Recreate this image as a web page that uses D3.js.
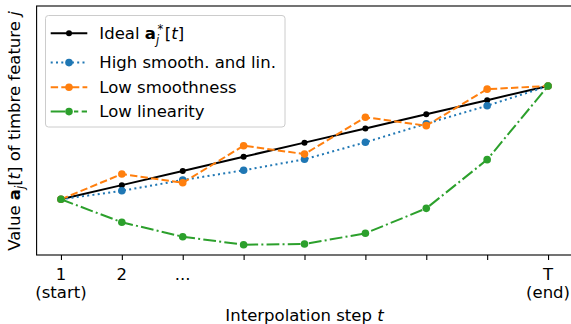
<!DOCTYPE html>
<html><head><meta charset="utf-8">
<script src="https://cdn.jsdelivr.net/npm/d3@7"></script>
<style>body{margin:0;background:#fff} svg{display:block} text{font-family:"DejaVu Sans",sans-serif;fill:#000}</style>
</head><body><svg id="c" width="571" height="324"></svg>
<script>
// ---- data ----
const steps = [1, 2, 3, 4, 5, 6, 7, 8, 9];
const tickLine1 = ["1", "2", "...", "", "", "", "", "", "T"];
const tickLine2 = ["(start)", "", "", "", "", "", "", "", "(end)"];
const ideal = [0, 0.125, 0.25, 0.375, 0.5, 0.625, 0.75, 0.875, 1];
const highSmoothLin = [0, 0.075, 0.17, 0.256, 0.353, 0.503, 0.667, 0.826, 1];
const lowSmooth = [0, 0.223, 0.146, 0.473, 0.399, 0.724, 0.65, 0.972, 1];
const lowLin = [0, -0.203, -0.33, -0.401, -0.395, -0.3, -0.08, 0.35, 1];
const seriesNames = ["Ideal", "High smooth. and lin.", "Low smoothness", "Low linearity"];

const FS = 16.5;
const svg = d3.select("#c");
const L = 36.6, R = 572.4, T = 6, B = 255;
const x = d3.scaleLinear().domain([0.6, 9.4]).range([L, R]);
const y = d3.scaleLinear().domain([-0.4916, 1.706]).range([B, T]);

const series = [
  {name: seriesNames[0], values: ideal, color: "#000000", dash: null, r: 3},
  {name: seriesNames[1], values: highSmoothLin, color: "#1f77b4", dash: "2,3.3", r: 3.8},
  {name: seriesNames[2], values: lowSmooth, color: "#ff7f0e", dash: "7.4,3.2", r: 3.8},
  {name: seriesNames[3], values: lowLin, color: "#2ca02c", dash: "12.8,3.2,2,3.2", r: 3.8}
];

const line = d3.line().x((d, i) => x(steps[i])).y(d => y(d));
series.forEach(s => {
  svg.append("path").attr("d", line(s.values)).attr("fill", "none")
    .attr("stroke", s.color).attr("stroke-width", 2)
    .attr("stroke-dasharray", s.dash);
  svg.selectAll(null).data(s.values).enter().append("circle")
    .attr("cx", (d, i) => x(steps[i])).attr("cy", d => y(d))
    .attr("r", s.r).attr("fill", s.color);
});

// frame
svg.append("rect").attr("x", L).attr("y", T).attr("width", R - L).attr("height", B - T)
  .attr("fill", "none").attr("stroke", "#000").attr("stroke-width", 1.1);

// x axis
const xAxis = d3.axisBottom(x).tickValues(steps).tickSize(5).tickFormat("");
const gx = svg.append("g").attr("transform", `translate(0,${B})`).call(xAxis);
gx.select(".domain").remove();
gx.selectAll(".tick line").attr("stroke", "#000").attr("stroke-width", 1.1);
steps.forEach((s, i) => {
  svg.append("text").attr("x", x(s)).attr("y", 280).attr("text-anchor", "middle")
    .attr("font-size", FS).text(tickLine1[i]);
  if (tickLine2[i]) svg.append("text").attr("x", x(s)).attr("y", 298).attr("text-anchor", "middle")
    .attr("font-size", FS).text(tickLine2[i]);
});

// x label
const xl = svg.append("text").attr("x", (L + R) / 2).attr("y", 321).attr("text-anchor", "middle").attr("font-size", FS);
xl.append("tspan").text("Interpolation step ");
xl.append("tspan").attr("font-style", "italic").text("t");

// y label
const yl = svg.append("text").attr("transform", `translate(20,${(T + B) / 2 + 0.5}) rotate(-90)`)
  .attr("text-anchor", "middle").attr("font-size", FS);
yl.append("tspan").text("Value ");
yl.append("tspan").attr("font-weight", "bold").text("a");
yl.append("tspan").attr("font-style", "italic").attr("font-size", 11.5).attr("dy", 3.5).text("j");
yl.append("tspan").attr("dy", -3.5).text("[");
yl.append("tspan").attr("font-style", "italic").text("t");
yl.append("tspan").text("] of timbre feature ");
yl.append("tspan").attr("font-style", "italic").text("j");

// legend
const lg = svg.append("g");
lg.append("rect").attr("x", 45.5).attr("y", 15.5).attr("width", 239.5).attr("height", 111.5)
  .attr("rx", 3).attr("fill", "#fff").attr("fill-opacity", 0.8).attr("stroke", "#cccccc").attr("stroke-width", 1);
const rows = [33.3, 62.6, 87.2, 111.6];
const legendDash = [null, "2,3.3", "7.4,3.2", "14.3,9,4.3,3.4,5.3,20"];
series.forEach((s, i) => {
  lg.append("line").attr("x1", 50.7).attr("x2", 87.3).attr("y1", rows[i]).attr("y2", rows[i])
    .attr("stroke", s.color).attr("stroke-width", 2).attr("stroke-dasharray", legendDash[i]);
  lg.append("circle").attr("cx", 69).attr("cy", rows[i]).attr("r", s.r).attr("fill", s.color);
  const t = lg.append("text").attr("x", 99.3).attr("y", rows[i] + 5.8).attr("font-size", FS);
  if (i === 0) {
    t.append("tspan").text("Ideal ");
    t.append("tspan").attr("font-weight", "bold").text("a");
    t.append("tspan").attr("font-style", "italic").attr("font-size", 11.5).attr("dy", 4.5).text("j");
    t.append("tspan").attr("font-size", 11.5).attr("dx", -1.5).attr("dy", -11).text("*");
    t.append("tspan").attr("dy", 6.5).attr("dx", 1.5).text("[");
    t.append("tspan").attr("font-style", "italic").text("t");
    t.append("tspan").text("]");
  } else {
    t.text(s.name);
  }
});
</script></body></html>
